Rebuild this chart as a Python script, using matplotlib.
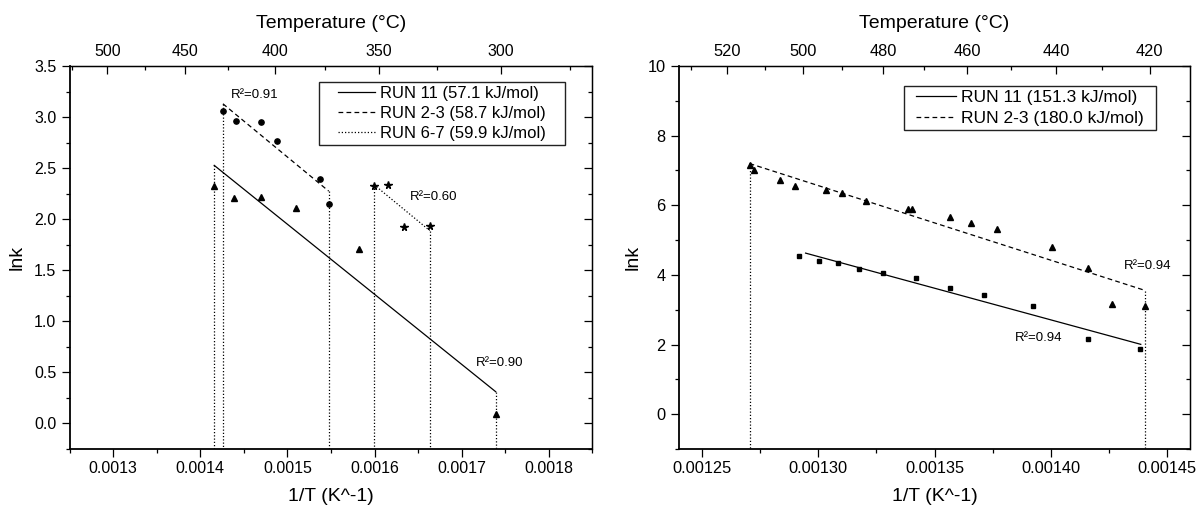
import numpy as np
import matplotlib
matplotlib.use('Agg')
import matplotlib.pyplot as plt
from matplotlib.ticker import FixedLocator, MultipleLocator, FormatStrFormatter
from matplotlib.patches import Rectangle
from matplotlib.transforms import IdentityTransform

plt.rcParams['font.family'] = ['Liberation Sans', 'DejaVu Sans']

# ---------------- data: left panel ----------------
L_run11_x = [0.001416, 0.0014384, 0.00147, 0.00151, 0.0015822, 0.0017391]
L_run11_y = [2.325, 2.203, 2.217, 2.112, 1.709, 0.088]
L_run23_x = [0.001426, 0.0014406, 0.00147, 0.0014878, 0.001538, 0.0015478]
L_run23_y = [3.058, 2.963, 2.953, 2.763, 2.390, 2.148]
L_run67_x = [0.0015994, 0.0016157, 0.0016333, 0.0016637]
L_run67_y = [2.328, 2.338, 1.928, 1.935]
# fitted lines (end points)
L_fit11_x = [0.001416, 0.0017391]
L_fit11_y = [2.527, 0.311]
L_fit23_x = [0.001426, 0.0015474]
L_fit23_y = [3.130, 2.275]
L_fit67_x = [0.0015994, 0.0016633]
L_fit67_y = [2.338, 1.889]
L_labels = ['RUN 11 (57.1 kJ/mol)', 'RUN 2-3 (58.7 kJ/mol)', 'RUN 6-7 (59.9 kJ/mol)']
L_r2_text = ['R²=0.91', 'R²=0.60', 'R²=0.90']
L_r2_x = [0.001435, 0.0016408, 0.0017158]
L_r2_y = [3.215, 2.216, 0.596]
L_top_major = [500, 450, 400, 350, 300]
L_top_minor = [525, 475, 425, 375, 325, 275]

# ---------------- data: right panel ----------------
R_run11_x = [0.0012915, 0.0013001, 0.0013085, 0.0013173, 0.0013278, 0.001342,
             0.0013565, 0.0013715, 0.0013925, 0.001416, 0.0014386]
R_run11_y = [4.539, 4.395, 4.328, 4.165, 4.06, 3.916, 3.628, 3.416, 3.1, 2.15, 1.862]
R_run23_x = [0.0012704, 0.0012721, 0.0012833, 0.0012899, 0.0013034, 0.0013103,
             0.0013207, 0.0013384, 0.0013402, 0.0013565, 0.0013657, 0.0013771,
             0.0014004, 0.001416, 0.0014264, 0.0014408]
R_run23_y = [7.159, 7.015, 6.727, 6.564, 6.44, 6.344, 6.132, 5.893, 5.893, 5.662,
             5.48, 5.317, 4.808, 4.194, 3.167, 3.1]
R_fit11_x = [0.0012945, 0.0014388]
R_fit11_y = [4.626, 2.006]
R_fit23_x = [0.0012704, 0.0014408]
R_fit23_y = [7.198, 3.551]
R_labels = ['RUN 11 (151.3 kJ/mol)', 'RUN 2-3 (180.0 kJ/mol)']
R_r2_text = ['R²=0.94', 'R²=0.94']
R_r2_x = [0.0014315, 0.0013844]
R_r2_y = [4.27, 2.18]
R_top_major = [520, 500, 480, 460, 440, 420]
R_top_minor = [530, 510, 490, 470, 450, 430]


def inv_to_c(x):
    x = np.asarray(x, dtype=float)
    with np.errstate(divide='ignore', invalid='ignore'):
        return 1.0 / x - 273.15


def c_to_inv(c):
    c = np.asarray(c, dtype=float)
    with np.errstate(divide='ignore', invalid='ignore'):
        return 1.0 / (c + 273.15)


W, H = 1203, 512
fig = plt.figure(figsize=(W / 100, H / 100), dpi=100)
axL = fig.add_axes([69.6 / W, 63 / H, 522.7 / W, 383 / H])
axR = fig.add_axes([679 / W, 63 / H, 511 / W, 383 / H])

DASH = (3.8, 2.6)
DOT = (1.0, 1.6)
LW = 0.9


def style_axes(ax, xlim, ylim, xmaj, xmin, xfmt, ymaj, ymin, yfmt,
               top_major, top_minor, lab_fs, ylabel_x):
    ax.set_xlim(*xlim)
    ax.set_ylim(*ylim)
    ax.xaxis.set_major_locator(MultipleLocator(xmaj))
    ax.xaxis.set_minor_locator(MultipleLocator(xmin))
    ax.xaxis.set_major_formatter(FormatStrFormatter(xfmt))
    ax.yaxis.set_major_locator(MultipleLocator(ymaj))
    ax.yaxis.set_minor_locator(MultipleLocator(ymin))
    ax.yaxis.set_major_formatter(FormatStrFormatter(yfmt))
    ax.tick_params(which='both', direction='out', top=False, right=False,
                   labelsize=lab_fs, width=0.9)
    ax.tick_params(which='major', length=5.5)
    ax.tick_params(which='minor', length=3)
    ax.tick_params(axis='x', pad=3)
    ax.tick_params(axis='y', pad=4)
    for s in ax.spines.values():
        s.set_linewidth(1.0)
    ax.spines['left'].set_linewidth(1.3)
    ax.spines['bottom'].set_linewidth(1.3)

    # right mirror ticks pointing inward
    rax = ax.secondary_yaxis('right')
    rax.yaxis.set_major_locator(MultipleLocator(ymaj))
    rax.yaxis.set_minor_locator(MultipleLocator(ymin))
    rax.tick_params(which='both', direction='in', labelright=False, width=0.9)
    rax.tick_params(which='major', length=5.5)
    rax.tick_params(which='minor', length=3)

    # top temperature axis
    tax = ax.secondary_xaxis('top', functions=(inv_to_c, c_to_inv))
    tax.xaxis.set_major_locator(FixedLocator(top_major))
    tax.xaxis.set_minor_locator(FixedLocator(top_minor))
    tax.xaxis.set_major_formatter(FormatStrFormatter('%d'))
    tax.tick_params(which='both', direction='in', labelsize=lab_fs, width=0.9, pad=5)
    tax.tick_params(which='major', length=5.5)
    tax.tick_params(which='minor', length=3)
    tax.set_xlabel('Temperature (°C)', fontsize=14)
    tax.xaxis.label.set_va('center')
    tax.xaxis.set_label_coords(0.5, 1.1115, transform=ax.transAxes)

    ax.set_xlabel('1/T (K^-1)', fontsize=14)
    ax.xaxis.label.set_va('center')
    ax.xaxis.set_label_coords(0.5, -0.1253)
    ax.set_ylabel('lnk', fontsize=14)
    ax.yaxis.label.set_va('center')
    ax.yaxis.set_label_coords(ylabel_x, 0.5)


def drop(ax, xs, ys, ybot):
    for x, y in zip(xs, ys):
        ax.plot([x, x], [y, ybot], color='black', lw=LW, dashes=DOT)


# ---------------- left panel ----------------
yb_L = -0.25
axL.plot(L_run11_x, L_run11_y, '^', color='black', ms=4.2, ls='none')
axL.plot(L_run23_x, L_run23_y, 'o', color='black', ms=3.8, ls='none')
axL.plot(L_run67_x, L_run67_y, '*', color='black', ms=5.5, ls='none')
hL = []
hL += axL.plot(L_fit11_x, L_fit11_y, color='black', lw=LW, label=L_labels[0])
hL += axL.plot(L_fit23_x, L_fit23_y, color='black', lw=LW, dashes=DASH, label=L_labels[1])
hL += axL.plot(L_fit67_x, L_fit67_y, color='black', lw=LW, dashes=DOT, label=L_labels[2])
drop(axL, L_fit11_x, L_fit11_y, yb_L)
drop(axL, L_fit23_x, L_fit23_y, yb_L)
drop(axL, L_fit67_x, L_fit67_y, yb_L)
for t, x, y in zip(L_r2_text, L_r2_x, L_r2_y):
    axL.text(x, y, t, fontsize=9.5, ha='left', va='center')
style_axes(axL, (0.00125, 0.00185), (yb_L, 3.5), 0.0001, 0.00005, '%.4f',
           0.5, 0.25, '%.1f', L_top_major, L_top_minor, 11.5, -0.100)

# ---------------- right panel ----------------
yb_R = -1.0
axR.plot(R_run23_x, R_run23_y, '^', color='black', ms=4.2, ls='none')
axR.plot(R_run11_x, R_run11_y, 's', color='black', ms=3.4, ls='none')
hR = []
hR += axR.plot(R_fit11_x, R_fit11_y, color='black', lw=LW, label=R_labels[0])
hR += axR.plot(R_fit23_x, R_fit23_y, color='black', lw=LW, dashes=DASH, label=R_labels[1])
drop(axR, R_fit23_x, R_fit23_y, yb_R)
for t, x, y in zip(R_r2_text, R_r2_x, R_r2_y):
    axR.text(x, y, t, fontsize=9.5, ha='left', va='center')
style_axes(axR, (0.00124, 0.00146), (yb_R, 10), 0.00005, 0.000025, '%.5f',
           2, 1, '%d', R_top_major, R_top_minor, 11.8, -0.0888)

# ---------------- legends (frame drawn with separate x / y padding) ----------------
legL = axL.legend(handles=hL, loc='upper right', bbox_to_anchor=(0.9114, 0.9486),
                  borderaxespad=0, borderpad=0, frameon=False, fontsize=12,
                  handlelength=2.2, handletextpad=0.3, labelspacing=0.31)
legR = axR.legend(handles=hR, loc='upper right', bbox_to_anchor=(0.9100, 0.9370),
                  borderaxespad=0, borderpad=0, frameon=False, fontsize=12.5,
                  handlelength=2.3, handletextpad=0.3, labelspacing=0.31)

fig.canvas.draw()
renderer = fig.canvas.get_renderer()
for leg, padx, pady in [(legL, 19, 4), (legR, 12, 4)]:
    bb = leg.get_window_extent(renderer)
    rect = Rectangle((bb.x0 - padx, bb.y0 - pady), bb.width + 2 * padx,
                     bb.height + 2 * pady, transform=IdentityTransform(),
                     fill=False, edgecolor='#222222', lw=1.0, zorder=5)
    fig.add_artist(rect)

fig.savefig('out.png', dpi=100)
